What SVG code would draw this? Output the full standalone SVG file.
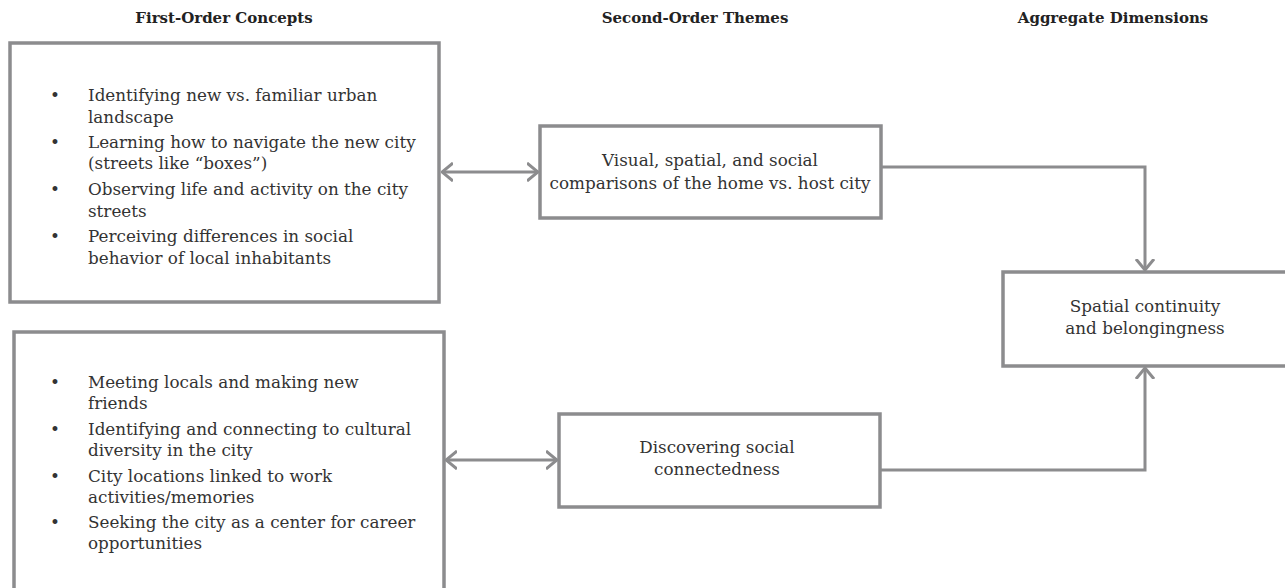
<svg xmlns="http://www.w3.org/2000/svg" width="1285" height="588" viewBox="0 0 1285 588">
<style>
.box{fill:#fff;stroke:#8c8c8e;stroke-width:3.5}
.con{fill:none;stroke:#8c8c8e;stroke-width:3}
.hdr{font-family:"DejaVu Serif","Liberation Serif",serif;font-weight:bold;font-size:15px;fill:#222;text-anchor:middle}
.t{font-family:"DejaVu Serif","Liberation Serif",serif;font-size:16.8px;fill:#333}
.c{text-anchor:middle}
</style>
<defs>
<marker id="ah" viewBox="0 0 12 20" markerWidth="12" markerHeight="20" refX="11" refY="10" orient="auto-start-reverse" markerUnits="userSpaceOnUse">
<path d="M0,1 L11,10 L0,19" fill="none" stroke="#8c8c8e" stroke-width="3"/>
</marker>
</defs>
<rect width="1285" height="588" fill="#fff"/>
<g id="headers">
<text class="hdr" x="224" y="23">First-Order Concepts</text>
<text class="hdr" x="695" y="23">Second-Order Themes</text>
<text class="hdr" x="1113" y="23">Aggregate Dimensions</text>
</g>
<g id="connectors">
<line class="con" x1="442" y1="172" x2="538" y2="172" marker-start="url(#ah)" marker-end="url(#ah)"/>
<line class="con" x1="446" y1="460" x2="557" y2="460" marker-start="url(#ah)" marker-end="url(#ah)"/>
<polyline class="con" points="881,167 1145,167 1145,270" marker-end="url(#ah)"/>
<polyline class="con" points="880,470 1145,470 1145,368" marker-end="url(#ah)"/>
</g>
<g id="first-order-1">
<rect class="box" x="10" y="43" width="429" height="259"/>
<g class="t">
<text x="50" y="101">•</text><text x="88" y="101">Identifying new vs. familiar urban</text>
<text x="88" y="123">landscape</text>
<text x="50" y="148">•</text><text x="88" y="148">Learning how to navigate the new city</text>
<text x="88" y="169">(streets like “boxes”)</text>
<text x="50" y="195">•</text><text x="88" y="195">Observing life and activity on the city</text>
<text x="88" y="217">streets</text>
<text x="50" y="242">•</text><text x="88" y="242">Perceiving differences in social</text>
<text x="88" y="264">behavior of local inhabitants</text>
</g>
</g>
<g id="first-order-2">
<rect class="box" x="14" y="332" width="430" height="262"/>
<g class="t">
<text x="50" y="388">•</text><text x="88" y="388">Meeting locals and making new</text>
<text x="88" y="409">friends</text>
<text x="50" y="435">•</text><text x="88" y="435">Identifying and connecting to cultural</text>
<text x="88" y="456">diversity in the city</text>
<text x="50" y="482">•</text><text x="88" y="482">City locations linked to work</text>
<text x="88" y="503">activities/memories</text>
<text x="50" y="528">•</text><text x="88" y="528">Seeking the city as a center for career</text>
<text x="88" y="549">opportunities</text>
</g>
</g>
<g id="theme-visual">
<rect class="box" x="540" y="126" width="341" height="92"/>
<text class="t c" x="710" y="166">Visual, spatial, and social</text>
<text class="t c" x="710" y="189">comparisons of the home vs. host city</text>
</g>
<g id="theme-social">
<rect class="box" x="559" y="414" width="321" height="93"/>
<text class="t c" x="717" y="453">Discovering social</text>
<text class="t c" x="717" y="475">connectedness</text>
</g>
<g id="aggregate">
<rect class="box" x="1003" y="272" width="284" height="94"/>
<text class="t c" x="1145" y="312">Spatial continuity</text>
<text class="t c" x="1145" y="334">and belongingness</text>
</g>
</svg>
